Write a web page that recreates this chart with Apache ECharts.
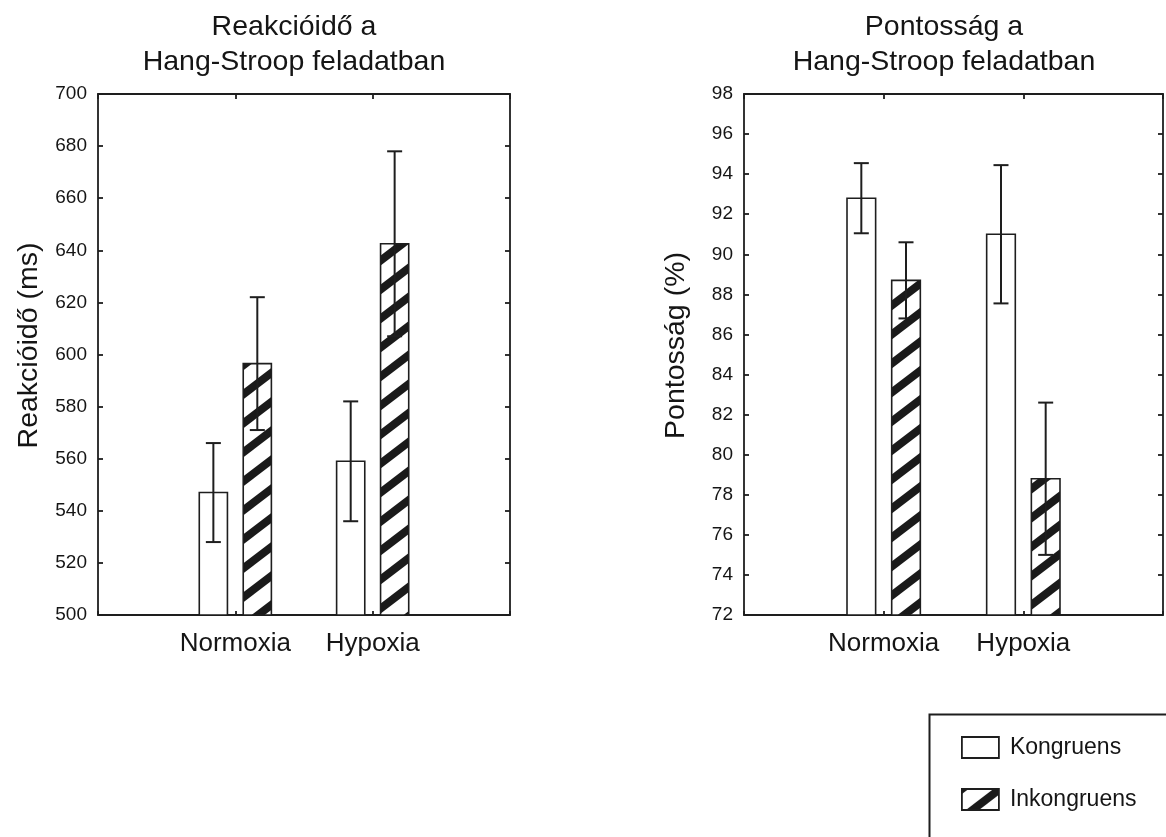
<!DOCTYPE html>
<html>
<head>
<meta charset="utf-8">
<script src="https://cdn.jsdelivr.net/npm/echarts@6/dist/echarts.min.js"></script>
<style>
html,body{margin:0;padding:0;background:#fff;}
#chart{width:1166px;height:837px;}
</style>
</head>
<body>
<div id="chart"></div>
<script>
// ---- data ----
const categories = ['Normoxia', 'Hypoxia'];
const seriesNames = ['Kongruens', 'Inkongruens'];

const rtKongruens = [547, 559];
const rtKongruensErr = [19, 23];
const rtInkongruens = [596.5, 642.5];
const rtInkongruensErr = [25.5, 35.5];

const accKongruens = [92.8, 91.0];
const accKongruensErr = [1.75, 3.45];
const accInkongruens = [88.7, 78.8];
const accInkongruensErr = [1.9, 3.8];

const rtTicks = [500, 520, 540, 560, 580, 600, 620, 640, 660, 680, 700];
const accTicks = [72, 74, 76, 78, 80, 82, 84, 86, 88, 90, 92, 94, 96, 98];

const titles = ['Reakcióidő a\nHang-Stroop feladatban', 'Pontosság a\nHang-Stroop feladatban'];
const yNames = ['Reakcióidő (ms)', 'Pontosság (%)'];

// ---- hatch pattern ----
function makeHatch() {
  const W = 38, H = 29;
  const c = document.createElement('canvas');
  c.width = W; c.height = H;
  const ctx = c.getContext('2d');
  ctx.fillStyle = '#fff';
  ctx.fillRect(0, 0, W, H);
  ctx.strokeStyle = '#1a1a1a';
  ctx.lineWidth = 8;
  for (let k = -2; k <= 2; k++) {
    ctx.beginPath();
    ctx.moveTo(-W, 2 * H + k * H);
    ctx.lineTo(2 * W, -H + k * H);
    ctx.stroke();
  }
  return { image: c, repeat: 'repeat' };
}
const hatch = makeHatch();

const FONT = 'Liberation Sans, Arial, Helvetica, sans-serif';
const INK = '#1e1e1e';
const TXT = '#151515';

function toData(vals, errs) {
  return vals.map((v, i) => [i + 1, v, errs[i]]);
}

function makeRender(offset, widthUnits, fill) {
  return function (params, api) {
    const x = api.value(0), v = api.value(1), e = api.value(2);
    const cs = params.coordSys;
    const unit = api.size([1, 0])[0];
    const w = unit * widthUnits;
    const top = api.coord([x + offset, v]);
    const bottom = cs.y + cs.height;
    const hi = api.coord([x + offset, v + e]);
    const lo = api.coord([x + offset, v - e]);
    const cap = 7.5;
    return {
      type: 'group',
      children: [
        { type: 'rect', shape: { x: top[0] - w / 2, y: top[1], width: w, height: bottom - top[1] },
          style: { fill: fill, stroke: INK, lineWidth: 1.6 } },
        { type: 'line', shape: { x1: hi[0], y1: hi[1], x2: lo[0], y2: lo[1] },
          style: { stroke: INK, lineWidth: 2 } },
        { type: 'line', shape: { x1: hi[0] - cap, y1: hi[1], x2: hi[0] + cap, y2: hi[1] },
          style: { stroke: INK, lineWidth: 2 } },
        { type: 'line', shape: { x1: lo[0] - cap, y1: lo[1], x2: lo[0] + cap, y2: lo[1] },
          style: { stroke: INK, lineWidth: 2 } }
      ]
    };
  };
}

const grids = [
  { left: 98, top: 94, width: 412, height: 521 },
  { left: 744, top: 94, width: 421, height: 521 }
];

function xAxes(gi) {
  return [
    { type: 'value', gridIndex: gi, min: 0, max: 3, interval: 1, position: 'bottom',
      axisLine: { onZero: false, lineStyle: { color: INK, width: 1.8 } },
      axisTick: { inside: true, length: 4, lineStyle: { color: INK, width: 1.8 } },
      splitLine: { show: false },
      axisLabel: { margin: 16, color: TXT, fontSize: 26, fontFamily: FONT,
        formatter: v => categories[v - 1] || '' } },
    { type: 'value', gridIndex: gi, min: 0, max: 3, interval: 1, position: 'top',
      axisLine: { onZero: false, lineStyle: { color: INK, width: 1.8 } },
      axisTick: { inside: true, length: 5, lineStyle: { color: INK, width: 1.8 } },
      splitLine: { show: false }, axisLabel: { show: false } }
  ];
}
function yAxes(gi, ticks, name, gap) {
  const mn = ticks[0], mx = ticks[ticks.length - 1], step = ticks[1] - ticks[0];
  return [
    { type: 'value', gridIndex: gi, min: mn, max: mx, interval: step, position: 'left',
      name: name, nameLocation: 'middle', nameGap: gap,
      nameTextStyle: { fontSize: 28.5, color: TXT, fontFamily: FONT, padding: [0, 0, 0, 18] },
      axisLine: { show: true, onZero: false, lineStyle: { color: INK, width: 1.8 } },
      axisTick: { show: true, inside: true, length: 5, lineStyle: { color: INK, width: 1.8 } },
      splitLine: { show: false },
      axisLabel: { margin: 11, color: TXT, fontSize: 19, fontFamily: FONT } },
    { type: 'value', gridIndex: gi, min: mn, max: mx, interval: step, position: 'right',
      axisLine: { show: true, onZero: false, lineStyle: { color: INK, width: 1.8 } },
      axisTick: { show: true, inside: true, length: 5, lineStyle: { color: INK, width: 1.8 } },
      splitLine: { show: false }, axisLabel: { show: false } }
  ];
}

const OFF = 0.16, BW = 0.205;

const option = {
  animation: false,
  backgroundColor: '#fff',
  textStyle: { fontFamily: FONT },
  title: [
    { text: titles[0], left: 294, top: 10, textAlign: 'center', padding: 0,
      textStyle: { fontSize: 28.5, fontWeight: 'normal', lineHeight: 35, color: TXT, fontFamily: FONT } },
    { text: titles[1], left: 944, top: 10, textAlign: 'center', padding: 0,
      textStyle: { fontSize: 28.5, fontWeight: 'normal', lineHeight: 35, color: TXT, fontFamily: FONT } }
  ],
  grid: grids,
  xAxis: [...xAxes(0), ...xAxes(1)],
  yAxis: [...yAxes(0, rtTicks, yNames[0], 54), ...yAxes(1, accTicks, yNames[1], 53)],
  legend: {
    orient: 'vertical', left: 961, top: 736, padding: 0,
    itemWidth: 37, itemHeight: 21, itemGap: 29,
    textStyle: { fontSize: 23, color: TXT, fontFamily: FONT, padding: [0, 0, 0, 6] },
    data: [
      { name: seriesNames[0], icon: 'rect', itemStyle: { color: '#fff', borderColor: INK, borderWidth: 1.8 } },
      { name: seriesNames[1], icon: 'rect', itemStyle: { color: hatch, borderColor: INK, borderWidth: 1.8 } }
    ]
  },
  graphic: [
    { type: 'rect', left: 927, top: 712, shape: { x: 0, y: 0, width: 300, height: 200 },
      style: { fill: 'none', stroke: INK, lineWidth: 2 }, z: -1 }
  ],
  series: [
    { type: 'custom', name: seriesNames[0], xAxisIndex: 0, yAxisIndex: 0,
      itemStyle: { color: '#fff' },
      renderItem: makeRender(-OFF, BW, '#fff'), data: toData(rtKongruens, rtKongruensErr) },
    { type: 'custom', name: seriesNames[1], xAxisIndex: 0, yAxisIndex: 0,
      itemStyle: { color: hatch },
      renderItem: makeRender(OFF, BW, hatch), data: toData(rtInkongruens, rtInkongruensErr) },
    { type: 'custom', name: seriesNames[0], xAxisIndex: 2, yAxisIndex: 2,
      itemStyle: { color: '#fff' },
      renderItem: makeRender(-OFF, BW, '#fff'), data: toData(accKongruens, accKongruensErr) },
    { type: 'custom', name: seriesNames[1], xAxisIndex: 2, yAxisIndex: 2,
      itemStyle: { color: hatch },
      renderItem: makeRender(OFF, BW, hatch), data: toData(accInkongruens, accInkongruensErr) }
  ]
};

const chart = echarts.init(document.getElementById('chart'), null, { renderer: 'canvas' });
chart.setOption(option);
</script>
</body>
</html>
